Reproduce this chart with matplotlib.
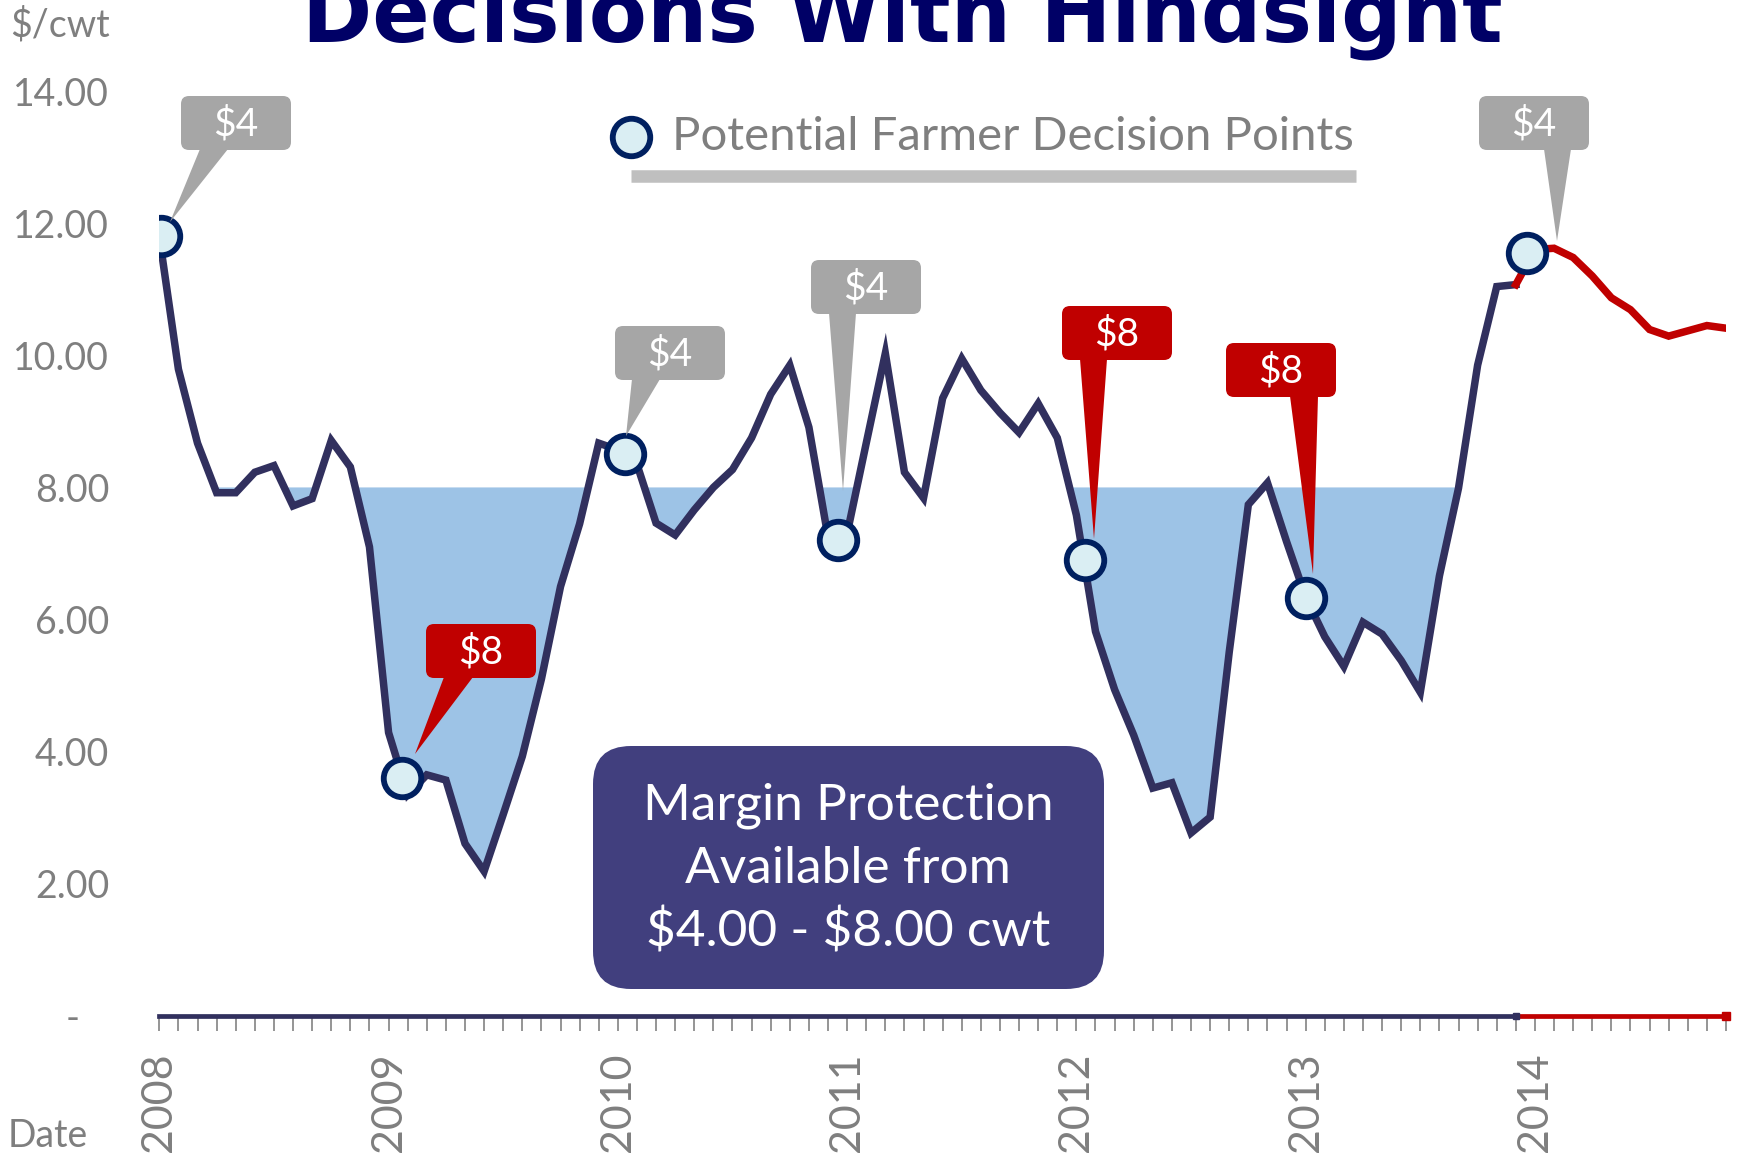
import matplotlib.pyplot as plt
import numpy as np
from matplotlib.patches import FancyBboxPatch, Polygon
from matplotlib.transforms import Affine2D

plt.rcParams['font.family'] = ['Lato', 'DejaVu Sans']

# monthly margin, Jan 2008 = month 0
hist_values = [11.80, 9.79, 8.67, 7.92, 7.92, 8.23, 8.33, 7.72, 7.83, 8.71, 8.31, 7.10,
               4.29, 3.35, 3.65, 3.57, 2.61, 2.19, 3.05, 3.93, 5.10, 6.50, 7.45, 8.67,
               8.57, 8.35, 7.46, 7.28, 7.66, 8.00, 8.27, 8.75, 9.41, 9.85, 8.91, 7.25,
               7.30, 8.67, 10.03, 8.23, 7.84, 9.35, 9.95, 9.47, 9.13, 8.83, 9.27, 8.75,
               7.58, 5.82, 4.94, 4.25, 3.45, 3.53, 2.77, 3.01, 5.51, 7.74, 8.07, 7.18,
               6.34, 5.74, 5.29, 5.96, 5.78, 5.38, 4.90, 6.66, 7.99, 9.85, 11.04, 11.07]
# futures based projection, starts at last historical month
forecast_values = [11.07, 11.60, 11.62, 11.48, 11.20, 10.87, 10.69, 10.39, 10.29,
                   10.37, 10.45, 10.41]

decision_months = [0.1, 12.7, 24.35, 35.5, 48.45, 60.0, 71.6]
decision_values = [11.8, 3.6, 8.5, 7.2, 6.9, 6.32, 11.55]

years = [2008, 2009, 2010, 2011, 2012, 2013, 2014]
protection_top = 8.0

# callouts: label, colour, box centre (px from top-left), pointer base offsets, tip
callouts = [
    ('$4', '#A6A6A6', (236, 123), (-36, -8), (170, 222)),
    ('$8', '#C00000', (481, 651), (-37, -8), (415, 754)),
    ('$4', '#A6A6A6', (670, 353), (-38, -10), (626, 436)),
    ('$4', '#A6A6A6', (866, 287), (-37, -10), (843, 491)),
    ('$8', '#C00000', (1117, 333), (-37, -10), (1094, 539)),
    ('$8', '#C00000', (1281, 370), (9, 37), (1313, 574)),
    ('$4', '#A6A6A6', (1534, 123), (10, 37), (1557, 241)),
]

W, H = 1743, 1161
fig = plt.figure(figsize=(W / 100, H / 100), dpi=100)
ax = fig.add_axes([159.3 / W, 1 - 1016 / H, (1726 - 159.3) / W, (1016 - 91) / H])
px = Affine2D().scale(1, -1).translate(0, H)  # pixel coords, origin top-left

hist_m = np.arange(len(hist_values))
fc_m = np.arange(len(forecast_values)) + len(hist_values) - 1
hv = np.array(hist_values)

navy = '#31305E'
red = '#C00000'
gray = '#7F7F7F'

ax.fill_between(hist_m, hv, protection_top, where=hv < protection_top,
                interpolate=True, color='#9DC3E6', lw=0, zorder=1)
ax.plot(hist_m, hv, color=navy, lw=5.4, solid_joinstyle='miter', zorder=3)
ax.plot(fc_m, forecast_values, color=red, lw=5.4, solid_joinstyle='miter', zorder=3)
ax.plot(hist_m, np.zeros(len(hist_m)), color=navy, lw=3.4, clip_on=False, zorder=4)
ax.plot(fc_m, np.zeros(len(fc_m)), color=red, lw=3.4, clip_on=False, zorder=4)
ax.plot(hist_m[-1:], [0], 's', color=navy, ms=5, clip_on=False, zorder=4)
ax.plot(fc_m[-1:], [0], 's', color=red, ms=6, clip_on=False, zorder=4)
ax.plot(decision_months, decision_values, 'o', ms=27, mfc='#DAEEF3', mec='#002060',
        mew=4.2, zorder=6)

ax.set_xlim(0, fc_m[-1])
ax.set_ylim(0, 14)
for s in ['top', 'right', 'left']:
    ax.spines[s].set_visible(False)
ax.spines['bottom'].set_color('#A0A0A0')
ax.spines['bottom'].set_linewidth(1)

ax.set_yticks(np.arange(0, 15, 2))
ax.set_yticklabels(['-   ' if v == 0 else f'{v:.2f}' for v in np.arange(0, 15, 2)])
ax.tick_params(axis='y', length=0, pad=36, labelsize=27, labelcolor=gray)

ax.set_xticks([12 * i for i in range(len(years))])
ax.set_xticks(np.arange(0, fc_m[-1] + 1), minor=True)
ax.set_xticklabels([str(y) for y in years], rotation=90, va='top', ha='center')
ax.tick_params(axis='x', which='both', length=11, width=1.3, color='#8C8C8C',
               direction='out')
ax.tick_params(axis='x', which='major', pad=15, labelsize=31, labelcolor=gray)

fig.text(10, 25, '$/cwt', transform=px, fontsize=27, color=gray, va='center',
         parse_math=False)
fig.text(8, 1136, 'Date', transform=px, fontsize=27, color=gray, va='center')

fig.text(902, 41, 'Decisions With Hindsight', transform=px, fontsize=61,
         fontweight='bold', family='DejaVu Sans', color='#000066',
         ha='center', va='baseline')

# legend
fig.lines.append(plt.Line2D([631], [137], marker='o', ms=27, mfc='#DAEEF3',
                            mec='#002060', mew=4.2, transform=px))
fig.text(672, 137, 'Potential Farmer Decision Points', transform=px, fontsize=34,
         color=gray, va='center', ha='left')
fig.lines.append(plt.Line2D([631, 1356], [176, 176], color='#BFBFBF', lw=9,
                            solid_capstyle='butt', transform=px))

# callouts
bw, bh = 110, 54
for label, col, (cx, cy), (b0, b1), tip in callouts:
    box = FancyBboxPatch((cx - bw / 2, cy - bh / 2), bw, bh,
                         boxstyle='round,pad=0,rounding_size=8',
                         transform=px, fc=col, ec='none', zorder=7)
    fig.patches.append(box)
    tri = Polygon([(cx + b0, cy + bh / 2 - 1), (cx + b1, cy + bh / 2 - 1), tip],
                  closed=True, transform=px, fc=col, ec='none', zorder=7)
    fig.patches.append(tri)
    fig.text(cx, cy + 1, label, transform=px, fontsize=28, color='white',
             ha='center', va='center', zorder=8, parse_math=False)

# text box
tb = FancyBboxPatch((593, 746), 511, 243, boxstyle='round,pad=0,rounding_size=38',
                    transform=px, fc='#413F7E', ec='none', zorder=5)
fig.patches.append(tb)
fig.text(848, 869, 'Margin Protection\nAvailable from\n$4.00 - $8.00 cwt',
         transform=px, fontsize=37, color='white', ha='center', va='center',
         linespacing=1.45, zorder=6, parse_math=False)

fig.savefig('out.png', dpi=100)
